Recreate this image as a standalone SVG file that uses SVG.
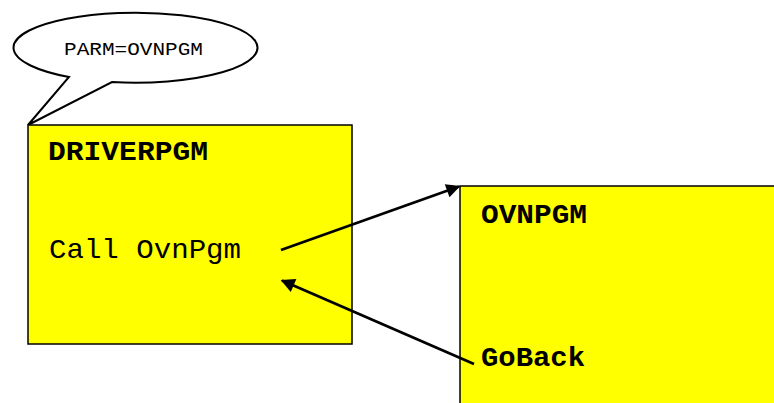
<svg xmlns="http://www.w3.org/2000/svg" width="774" height="403" viewBox="0 0 774 403">
  <style>
    .box { fill: #ffff00; stroke: #000; stroke-width: 1.5; }
    .title { font-family: "Liberation Mono", "Courier New", monospace; font-weight: bold; font-size: 28px; fill: #000; }
    .code { font-family: "Liberation Mono", "Courier New", monospace; font-size: 28px; fill: #000; }
    .note { font-family: "Liberation Mono", "Courier New", monospace; font-size: 18px; fill: #000; }
    .conn { stroke: #000; stroke-width: 2.8; fill: none; marker-end: url(#head); }
  </style>
  <defs>
    <marker id="head" viewBox="0 0 10 10" refX="9" refY="5" markerWidth="6" markerHeight="5" orient="auto" markerUnits="strokeWidth">
      <path d="M0,0 L10,5 L0,10 z" fill="#000"/>
    </marker>
  </defs>
  <rect width="774" height="403" fill="#fff"/>

  <!-- speech balloon with its tail pointing at the driver box corner -->
  <g id="callout">
    <path d="M69,77 A122,35 0 1 1 112,82 L28,125 Z" fill="#fff" stroke="#000" stroke-width="2"/>
    <text class="note" x="64" y="55" textLength="139" lengthAdjust="spacingAndGlyphs">PARM=OVNPGM</text>
  </g>

  <g id="driverpgm">
    <rect class="box" x="28" y="125" width="324" height="219"/>
    <text class="title" x="48" y="160" textLength="160" lengthAdjust="spacingAndGlyphs">DRIVERPGM</text>
    <text class="code" x="49" y="258" textLength="192" lengthAdjust="spacingAndGlyphs">Call OvnPgm</text>
  </g>

  <g id="ovnpgm">
    <rect class="box" x="460" y="186" width="330" height="230"/>
    <text class="title" x="481" y="223" textLength="106" lengthAdjust="spacingAndGlyphs">OVNPGM</text>
    <text class="title" x="481" y="366" textLength="104" lengthAdjust="spacingAndGlyphs">GoBack</text>
  </g>

  <g id="connectors">
    <line class="conn" x1="281" y1="250" x2="459" y2="186.5"/>
    <line class="conn" x1="474" y1="364" x2="282" y2="280.5"/>
  </g>
</svg>
